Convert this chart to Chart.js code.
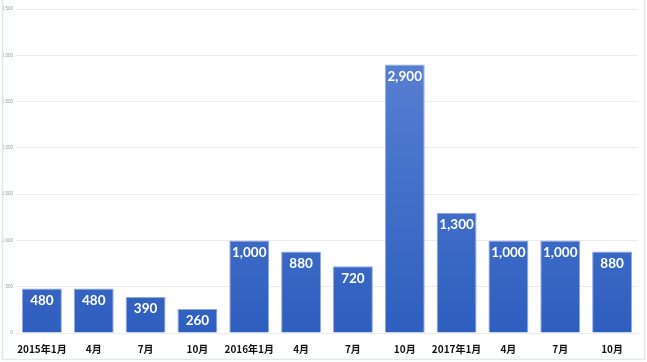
<!DOCTYPE html>
<html>
<head>
<meta charset="utf-8">
<script src="https://cdn.jsdelivr.net/npm/chart.js@4/dist/chart.umd.min.js"></script>
<style>
  html, body { margin: 0; padding: 0; background: #fff; }
  #wrap { width: 647px; height: 362px; position: relative; }
</style>
</head>
<body>
<div id="wrap"><canvas id="salesChart" width="647" height="362"></canvas></div>
<script>
// quarterly figures, 2015 - 2017
const quarters = ["2015年1月", "4月", "7月", "10月", "2016年1月", "4月", "7月", "10月", "2017年1月", "4月", "7月", "10月"];
const counts = [480, 480, 390, 260, 1000, 880, 720, 2900, 1300, 1000, 1000, 880];
const yMax = 3500;
const yStep = 500;

const fmt = (v) => v.toLocaleString("en-US");

// white value labels inside the top of each bar
const valueLabels = {
  id: "valueLabels",
  afterDatasetsDraw(chart) {
    const { ctx } = chart;
    const meta = chart.getDatasetMeta(0);
    ctx.save();
    ctx.fillStyle = "#ffffff";
    ctx.font = "bold 13.5px Lato, sans-serif";
    ctx.textAlign = "center";
    ctx.textBaseline = "middle";
    meta.data.forEach((bar, i) => {
      ctx.fillText(fmt(counts[i]), bar.x, bar.y + 12);
    });
    ctx.restore();
  },
};

// thin frame on left, right and bottom
const frame = {
  id: "frame",
  afterDraw(chart) {
    const { ctx } = chart;
    ctx.save();
    ctx.strokeStyle = "#e2e7ee";
    ctx.lineWidth = 1.5;
    ctx.beginPath();
    ctx.moveTo(2.5, 0);
    ctx.lineTo(2.5, 359.5);
    ctx.lineTo(644.5, 359.5);
    ctx.lineTo(644.5, 0);
    ctx.stroke();
    ctx.restore();
  },
};

new Chart(document.getElementById("salesChart"), {
  type: "bar",
  data: {
    labels: quarters,
    datasets: [
      {
        data: counts,
        backgroundColor: (c) => {
          const area = c.chart.chartArea;
          if (!area) return "#3f6cc8";
          const g = c.chart.ctx.createLinearGradient(0, area.top, 0, area.bottom);
          g.addColorStop(0, "#5f86d6");
          g.addColorStop(1, "#2e5ebf");
          return g;
        },
        borderColor: "#8fa9e2",
        borderWidth: 1,
        categoryPercentage: 1,
        barPercentage: 0.77,
      },
    ],
  },
  options: {
    responsive: false,
    animation: false,
    layout: { padding: { left: 0, right: 9, top: 9, bottom: 4 } },
    plugins: {
      legend: { display: false },
      tooltip: { enabled: false },
    },
    scales: {
      x: {
        grid: { display: false },
        border: { display: false },
        ticks: {
          color: "#111",
          font: { family: "'Noto Sans CJK JP', sans-serif", size: 10, weight: "bold" },
          maxRotation: 0,
          autoSkip: false,
          padding: 2,
        },
        afterFit: (s) => { s.height = 25; },
      },
      y: {
        min: 0,
        max: yMax,
        grid: { color: "#ececec", drawTicks: false },
        border: { display: false },
        ticks: {
          stepSize: yStep,
          color: "#9a9a9a",
          font: { family: "'Liberation Sans', sans-serif", size: 4.5 },
          padding: 3,
          callback: (v) => fmt(v),
        },
        afterFit: (s) => { s.width = 16; },
      },
    },
  },
  plugins: [valueLabels, frame],
});
</script>
</body>
</html>
